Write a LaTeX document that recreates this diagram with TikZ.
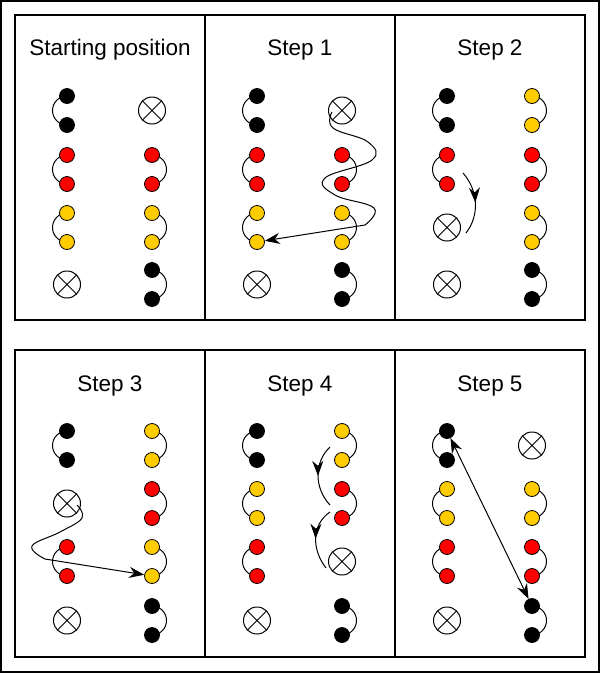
\documentclass[tikz,border=0pt]{standalone}
\usepackage{fontspec}
\setmainfont{Liberation Sans}
\usetikzlibrary{arrows.meta,decorations.markings}
\tikzset{
  dot/.style={circle,draw,line width=0.8pt,minimum size=15pt,inner sep=0pt},
  xcr/.style={circle,draw,line width=1pt,minimum size=27pt,inner sep=0pt,
    path picture={\draw[line width=1pt] (path picture bounding box.north west)--(path picture bounding box.south east)
      (path picture bounding box.north east)--(path picture bounding box.south west);}},
  panel/.style={draw,line width=1.2pt},
  ttl/.style={font=\fontsize{22.5}{24}\selectfont},
  con/.style={line width=1pt},
  arr/.style={line width=1pt,-{Stealth[length=15pt,width=11pt]}},
  midarr/.style={line width=1pt,postaction={decorate},decoration={markings,mark=at position 0.5 with {\arrow{Stealth[length=15pt,width=11pt]}}}}
}
\definecolor{yel}{HTML}{FFCC00}
\definecolor{rd}{HTML}{FF0000}
% name, x, ytop, color, L/R
\newcommand\dpair[5]{%
  \if#5L\draw[con] (#2,#3) arc[start angle=270,end angle=90,radius=14.5];
  \else\draw[con] (#2,#3) arc[start angle=270,end angle=450,radius=14.5];\fi
  \node[dot,fill=#4] (#1a) at (#2,#3) {};
  \node[dot,fill=#4] (#1b) at (#2,#3+29) {};}
\newcommand\xslot[3]{\node[xcr] (#1) at (#2,#3+14.5) {};}
\begin{document}
\begin{tikzpicture}[x=1pt,y=-1pt]
\useasboundingbox (0,0) rectangle (600,673);
\draw[panel] (1,1) rectangle (599,672);
\foreach \px in {15,205,395}{
  \draw[panel] (\px,15) rectangle (\px+190,320);
  \draw[panel] (\px,350) rectangle (\px+190,657);}
\node[ttl] (t0) at (110,50) {Starting position};
\node[ttl] (t1) at (300,50) {Step 1};
\node[ttl] (t2) at (490,50) {Step 2};
\node[ttl] (t3) at (110,386) {Step 3};
\node[ttl] (t4) at (300,386) {Step 4};
\node[ttl] (t5) at (490,386) {Step 5};
% Start
\dpair{sa}{67}{96}{black}{L}\dpair{sb}{67}{155}{rd}{L}\dpair{sc}{67}{213}{yel}{L}\xslot{sd}{67}{270}
\xslot{se}{152}{96}\dpair{sf}{152}{155}{rd}{R}\dpair{sg}{152}{213}{yel}{R}\dpair{sh}{152}{270}{black}{R}
% Step 1
\dpair{aa}{257}{96}{black}{L}\dpair{ab}{257}{155}{rd}{L}\dpair{ac}{257}{213}{yel}{L}\xslot{ad}{257}{270}
\xslot{ae}{342}{96}\dpair{af}{342}{155}{rd}{R}\dpair{ag}{342}{213}{yel}{R}\dpair{ah}{342}{270}{black}{R}
\draw[arr] plot[smooth,tension=0.7] coordinates {(332,112) (333,128) (368,142) (372,160) (325,178) (335,195) (374,208) (365,225)} -- (acb);
% Step 2
\dpair{ba}{447}{96}{black}{L}\dpair{bb}{447}{155}{rd}{L}\xslot{bc}{447}{213}\xslot{bd}{447}{270}
\dpair{be}{532}{96}{yel}{R}\dpair{bf}{532}{155}{rd}{R}\dpair{bg}{532}{213}{yel}{R}\dpair{bh}{532}{270}{black}{R}
\coordinate (b1) at (463,173); \coordinate (b2) at (466,233);
\draw[midarr] (b1) .. controls (478,190) and (480,215) .. (b2);
% Step 3
\dpair{ca}{67}{431}{black}{L}\xslot{cb}{67}{489}\dpair{cc}{67}{547}{rd}{L}\xslot{cd}{67}{606}
\dpair{ce}{152}{431}{yel}{R}\dpair{cf}{152}{489}{rd}{R}\dpair{cg}{152}{547}{yel}{R}\dpair{ch}{152}{606}{black}{R}
\draw[arr] plot[smooth,tension=0.7] coordinates {(77,505) (82,518) (60,532) (32,546) (45,559)} -- (cgb);
% Step 4
\dpair{da}{257}{431}{black}{L}\dpair{db}{257}{489}{yel}{L}\dpair{dc}{257}{547}{rd}{L}\xslot{dd}{257}{606}
\dpair{de}{342}{431}{yel}{R}\dpair{df}{342}{489}{rd}{R}\xslot{dg}{342}{547}\dpair{dh}{342}{606}{black}{R}
\coordinate (d1) at (330,447); \coordinate (d2) at (330,505);
\coordinate (d3) at (330,512); \coordinate (d4) at (326,568);
\draw[midarr] (d1) .. controls (314,462) and (314,488) .. (d2);
\draw[midarr] (d3) .. controls (311,525) and (312,550) .. (d4);
% Step 5
\dpair{ea}{447}{431}{black}{L}\dpair{eb}{447}{489}{yel}{L}\dpair{ec}{447}{547}{rd}{L}\xslot{ed}{447}{606}
\xslot{ee}{532}{431}\dpair{ef}{532}{489}{yel}{R}\dpair{eg}{532}{547}{rd}{R}\dpair{eh}{532}{606}{black}{R}
\draw[line width=1pt,{Stealth[length=15pt,width=11pt]}-{Stealth[length=15pt,width=11pt]}] (eaa) -- (eha);
\end{tikzpicture}
\end{document}
